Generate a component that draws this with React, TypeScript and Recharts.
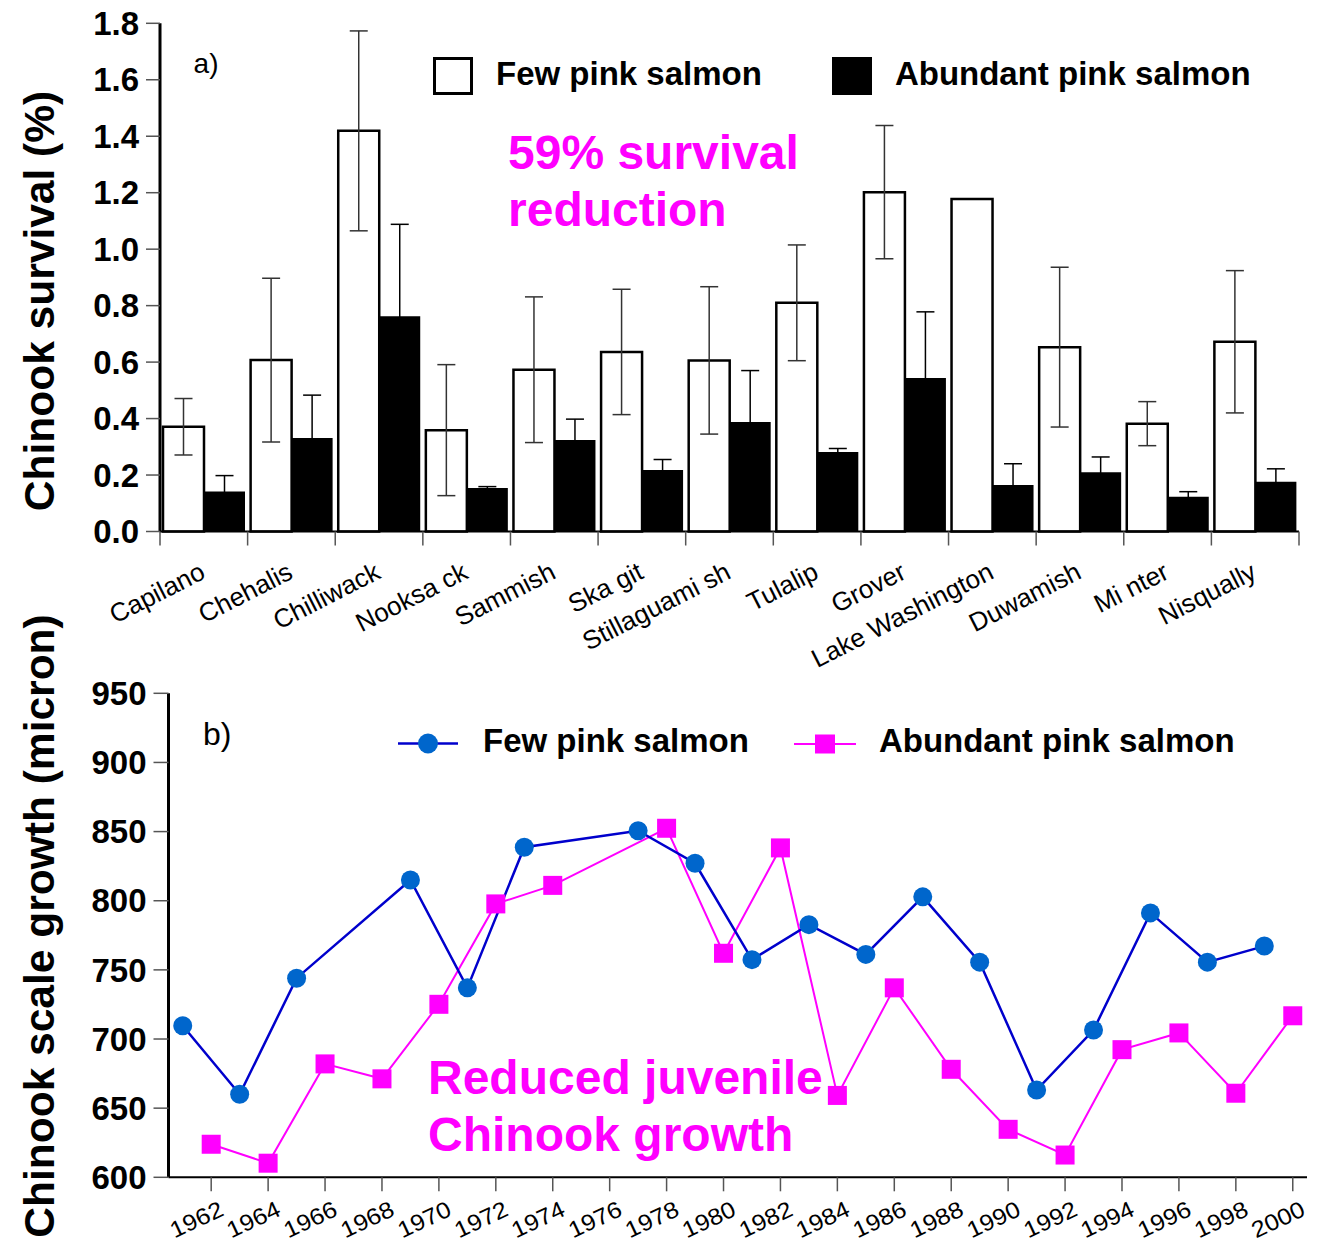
import React from 'react';
import {
  BarChart,
  Bar,
  ErrorBar,
  LineChart,
  Line,
  XAxis,
  YAxis,
  Legend,
} from 'recharts';

const FONT = '"Liberation Sans", Arial, Helvetica, sans-serif';
const MAGENTA = '#FF00FF';

// panel a) survival per stock
const SITES = [
  'Capilano', 'Chehalis', 'Chilliwack', 'Nooksa ck', 'Sammish', 'Ska git', 'Stillaguami sh',
  'Tulalip', 'Grover', 'Lake Washington', 'Duwamish', 'Mi nter', 'Nisqually',
];
const FEW_SURVIVAL = [0.371, 0.607, 1.419, 0.359, 0.573, 0.636, 0.606, 0.81, 1.202, 1.178, 0.653, 0.382, 0.672];
const FEW_ERR = [0.1, 0.29, 0.354, 0.232, 0.258, 0.222, 0.261, 0.205, 0.236, null, 0.283, 0.078, 0.252];
const ABUNDANT_SURVIVAL = [0.142, 0.331, 0.762, 0.154, 0.324, 0.218, 0.388, 0.282, 0.544, 0.165, 0.21, 0.123, 0.176];
const ABUNDANT_ERR = [0.056, 0.152, 0.326, 0.005, 0.074, 0.037, 0.182, 0.012, 0.234, 0.075, 0.054, 0.018, 0.046];
const SURVIVAL_TICKS = [0, 0.2, 0.4, 0.6, 0.8, 1.0, 1.2, 1.4, 1.6, 1.8];

// panel b) scale growth by year
const FEW_YEARS = [1961, 1963, 1965, 1969, 1971, 1973, 1977, 1979, 1981, 1983, 1985, 1987, 1989, 1991, 1993, 1995, 1997, 1999];
const FEW_GROWTH = [709.6, 660, 744, 815, 737, 838.7, 850.6, 827.1, 757.4, 782.7, 761.2, 802.8, 755.6, 663.1, 706.5, 791.2, 755.6, 767.2];
const ABUNDANT_YEARS = [1962, 1964, 1966, 1968, 1970, 1972, 1974, 1978, 1980, 1982, 1984, 1986, 1988, 1990, 1992, 1994, 1996, 1998, 2000];
const ABUNDANT_GROWTH = [623.9, 610.2, 682, 671.2, 725.1, 797.7, 811.1, 852.4, 762, 838.2, 659.2, 737, 678.1, 634.7, 616.1, 692.3, 704.4, 660.8, 716.8];
const YEAR_TICKS = [1962, 1964, 1966, 1968, 1970, 1972, 1974, 1976, 1978, 1980, 1982, 1984, 1986, 1988, 1990, 1992, 1994, 1996, 1998, 2000];
const GROWTH_TICKS = [600, 650, 700, 750, 800, 850, 900, 950];

const SERIES_NAMES = ['Few pink salmon', 'Abundant pink salmon'];

const survivalData = SITES.map((site, i) => ({
  site,
  few: FEW_SURVIVAL[i],
  fewErr: FEW_ERR[i],
  abundant: ABUNDANT_SURVIVAL[i],
  abundantErr: ABUNDANT_ERR[i],
}));
const fewGrowthData = FEW_YEARS.map((year, i) => ({ year, growth: FEW_GROWTH[i] }));
const abundantGrowthData = ABUNDANT_YEARS.map((year, i) => ({ year, growth: ABUNDANT_GROWTH[i] }));

// layout of panel a)
const TOP_W = 1320;
const TOP_H = 690;
const TOP_MARGIN = { top: 23.3, right: 21, bottom: 8.5, left: 100 };
const TOP_YAXIS_W = 60;
const SITE_BAND = (TOP_W - TOP_MARGIN.left - TOP_MARGIN.right - TOP_YAXIS_W) / SITES.length;

// layout of panel b)
const BOT_TOP = 600;
const BOT_W = 1320;
const BOT_H = 644;
const BOT_MARGIN = { top: 93.3, right: 13, bottom: 6.7, left: 98.5 };

const SiteTick = (props: any) => {
  const { x, y, payload, index } = props;
  const half = SITE_BAND / 2;
  const tx = x + 3;
  const ty = y + 46;
  return (
    <g>
      <line x1={x - half} y1={y} x2={x - half} y2={y + 14} stroke="#555" strokeWidth={1.5} />
      {index === SITES.length - 1 && (
        <line x1={x + half} y1={y} x2={x + half} y2={y + 14} stroke="#555" strokeWidth={1.5} />
      )}
      <text
        x={tx}
        y={ty}
        textAnchor="end"
        transform={`rotate(-27 ${tx} ${ty})`}
        fontSize={26}
        fontFamily={FONT}
        fill="#000"
      >
        {payload.value}
      </text>
    </g>
  );
};

// year labels in the source are a bit wider than the font, so they are stretched a little
const YearTick = (props: any) => {
  const { x, y, payload } = props;
  const tx = x + 14;
  const ty = y + 23.5;
  return (
    <text
      x={tx}
      y={ty}
      textAnchor="end"
      transform={`rotate(-25 ${tx} ${ty})`}
      fontSize={23}
      fontFamily={FONT}
      fill="#000"
      textLength={56}
      lengthAdjust="spacingAndGlyphs"
    >
      {payload.value}
    </text>
  );
};

const SquareDot = (props: any) => {
  const { cx, cy, index } = props;
  if (cx == null || cy == null) return <g key={`sq-${index}`} />;
  return <rect key={`sq-${index}`} x={cx - 9.5} y={cy - 9.5} width={19} height={19} fill={MAGENTA} />;
};

// title drawn at a fixed spot beside the axis; prop names kept clear of the ones Label injects
const AxisTitle = ({ px, py, caption }: { px: number; py: number; caption: string }) => (
  <text
    x={px}
    y={py}
    textAnchor="middle"
    transform={`rotate(-90 ${px} ${py})`}
    fontSize={42.5}
    fontWeight="bold"
    fontFamily={FONT}
    fill="#000"
  >
    {caption}
  </text>
);

const BarLegend = () => (
  <div style={{ display: 'flex', alignItems: 'flex-start', fontFamily: FONT, fontWeight: 'bold', fontSize: 33, lineHeight: '33px', color: '#000', whiteSpace: 'nowrap' }}>
    <span style={{ display: 'inline-block', boxSizing: 'border-box', width: 40, height: 38, border: '3px solid #000', background: '#fff' }} />
    <span style={{ marginLeft: 23 }}>{SERIES_NAMES[0]}</span>
    <span style={{ display: 'inline-block', width: 40, height: 38, background: '#000', marginLeft: 70 }} />
    <span style={{ marginLeft: 23 }}>{SERIES_NAMES[1]}</span>
  </div>
);

const LineLegend = () => (
  <div style={{ display: 'flex', alignItems: 'flex-start', fontFamily: FONT, fontWeight: 'bold', fontSize: 33, lineHeight: '33px', color: '#000', whiteSpace: 'nowrap' }}>
    <svg width={60} height={33} style={{ display: 'block' }}>
      <line x1={0} y1={19.5} x2={60} y2={19.5} stroke="#0000CC" strokeWidth={2.5} />
      <circle cx={30} cy={19.5} r={10} fill="#0066CC" />
    </svg>
    <span style={{ marginLeft: 25 }}>{SERIES_NAMES[0]}</span>
    <svg width={62} height={33} style={{ display: 'block', marginLeft: 45 }}>
      <line x1={0} y1={20} x2={62} y2={20} stroke={MAGENTA} strokeWidth={2} />
      <rect x={21} y={10.5} width={20} height={19} fill={MAGENTA} />
    </svg>
    <span style={{ marginLeft: 23 }}>{SERIES_NAMES[1]}</span>
  </div>
);

const noteStyle: React.CSSProperties = {
  position: 'absolute',
  fontFamily: FONT,
  fontWeight: 'bold',
  fontSize: 48,
  lineHeight: '57px',
  color: MAGENTA,
  whiteSpace: 'nowrap',
};

export default function App() {
  return (
    <div style={{ position: 'absolute', left: 0, top: 0, width: 1320, height: 1244, background: '#fff' }}>
      <div style={{ position: 'absolute', left: 0, top: 0 }}>
        <BarChart
          width={TOP_W}
          height={TOP_H}
          data={survivalData}
          margin={TOP_MARGIN}
          barCategoryGap={3}
          barGap={0}
        >
          <XAxis
            dataKey="site"
            interval={0}
            height={150}
            tickLine={false}
            tickSize={0}
            tickMargin={0}
            tick={<SiteTick />}
            axisLine={{ stroke: '#000', strokeWidth: 2 }}
          />
          <XAxis xAxisId="top" orientation="top" dataKey="site" height={0} tick={false} tickLine={false} axisLine={{ stroke: '#000', strokeWidth: 2 }} />
          <YAxis
            domain={[0, 1.8]}
            ticks={SURVIVAL_TICKS}
            interval={0}
            width={TOP_YAXIS_W}
            tickSize={14}
            tickMargin={7}
            tickFormatter={(v: number) => v.toFixed(1)}
            tickLine={{ stroke: '#555', strokeWidth: 1.5 }}
            axisLine={{ stroke: '#000', strokeWidth: 3 }}
            tick={{ fontSize: 33, fontWeight: 'bold', fill: '#000', fontFamily: FONT }}
            label={<AxisTitle px={53.5} py={301} caption="Chinook survival (%)" />}
          />
          <YAxis yAxisId="right" orientation="right" width={0} tick={false} tickLine={false} axisLine={{ stroke: '#000', strokeWidth: 2.5 }} />
          <Legend
            layout="vertical"
            align="center"
            verticalAlign="middle"
            content={() => <BarLegend />}
            wrapperStyle={{ position: 'absolute', top: 57, left: 433, width: 880, height: 40 }}
          />
          <Bar dataKey="few" name={SERIES_NAMES[0]} fill="#fff" stroke="#000" strokeWidth={2.5} isAnimationActive={false}>
            <ErrorBar dataKey="fewErr" width={9} stroke="#333" strokeWidth={1.5} direction="y" isAnimationActive={false} />
          </Bar>
          <Bar dataKey="abundant" name={SERIES_NAMES[1]} fill="#000" isAnimationActive={false}>
            <ErrorBar dataKey="abundantErr" width={9} stroke="#000" strokeWidth={1.5} direction="y" isAnimationActive={false} />
          </Bar>
        </BarChart>
      </div>

      <div style={{ position: 'absolute', left: 0, top: BOT_TOP }}>
        <LineChart width={BOT_W} height={BOT_H} margin={BOT_MARGIN}>
          <XAxis
            type="number"
            dataKey="year"
            domain={[1960.5, 2000.5]}
            ticks={YEAR_TICKS}
            interval={0}
            height={60}
            tickSize={14}
            tickMargin={0}
            tickLine={{ stroke: '#555', strokeWidth: 1.5 }}
            axisLine={{ stroke: '#000', strokeWidth: 2 }}
            tick={<YearTick />}
          />
          <XAxis xAxisId="top" orientation="top" type="number" domain={[1960.5, 2000.5]} height={0} tick={false} tickLine={false} axisLine={{ stroke: '#000', strokeWidth: 2 }} />
          <YAxis
            domain={[600, 950]}
            ticks={GROWTH_TICKS}
            interval={0}
            width={70}
            tickSize={15}
            tickMargin={7}
            tickLine={{ stroke: '#555', strokeWidth: 1.5 }}
            axisLine={{ stroke: '#000', strokeWidth: 3 }}
            tick={{ fontSize: 33, fontWeight: 'bold', fill: '#000', fontFamily: FONT }}
            label={<AxisTitle px={53.5} py={326} caption="Chinook scale growth (micron)" />}
          />
          <YAxis yAxisId="right" orientation="right" width={0} tick={false} tickLine={false} axisLine={{ stroke: '#000', strokeWidth: 2.5 }} />
          <Legend
            layout="vertical"
            align="center"
            verticalAlign="middle"
            content={() => <LineLegend />}
            wrapperStyle={{ position: 'absolute', top: 124, left: 398, width: 880, height: 40 }}
          />
          <Line
            data={abundantGrowthData}
            dataKey="growth"
            name={SERIES_NAMES[1]}
            stroke={MAGENTA}
            strokeWidth={2}
            dot={<SquareDot />}
            activeDot={false}
            isAnimationActive={false}
          />
          <Line
            data={fewGrowthData}
            dataKey="growth"
            name={SERIES_NAMES[0]}
            stroke="#0000CC"
            strokeWidth={2.5}
            dot={{ r: 9.5, fill: '#0066CC', stroke: 'none' }}
            activeDot={false}
            isAnimationActive={false}
          />
        </LineChart>
      </div>

      <div style={{ position: 'absolute', left: 193.6, top: 50.3, fontFamily: FONT, fontSize: 28, lineHeight: '28px', color: '#000' }}>a)</div>
      <div style={{ position: 'absolute', left: 203, top: 717.6, fontFamily: FONT, fontSize: 32, lineHeight: '32px', color: '#000' }}>b)</div>
      <div style={{ ...noteStyle, left: 508, top: 124 }}>
        59% survival
        <br />
        reduction
      </div>
      <div style={{ ...noteStyle, left: 428, top: 1049 }}>
        Reduced juvenile
        <br />
        Chinook growth
      </div>
    </div>
  );
}
